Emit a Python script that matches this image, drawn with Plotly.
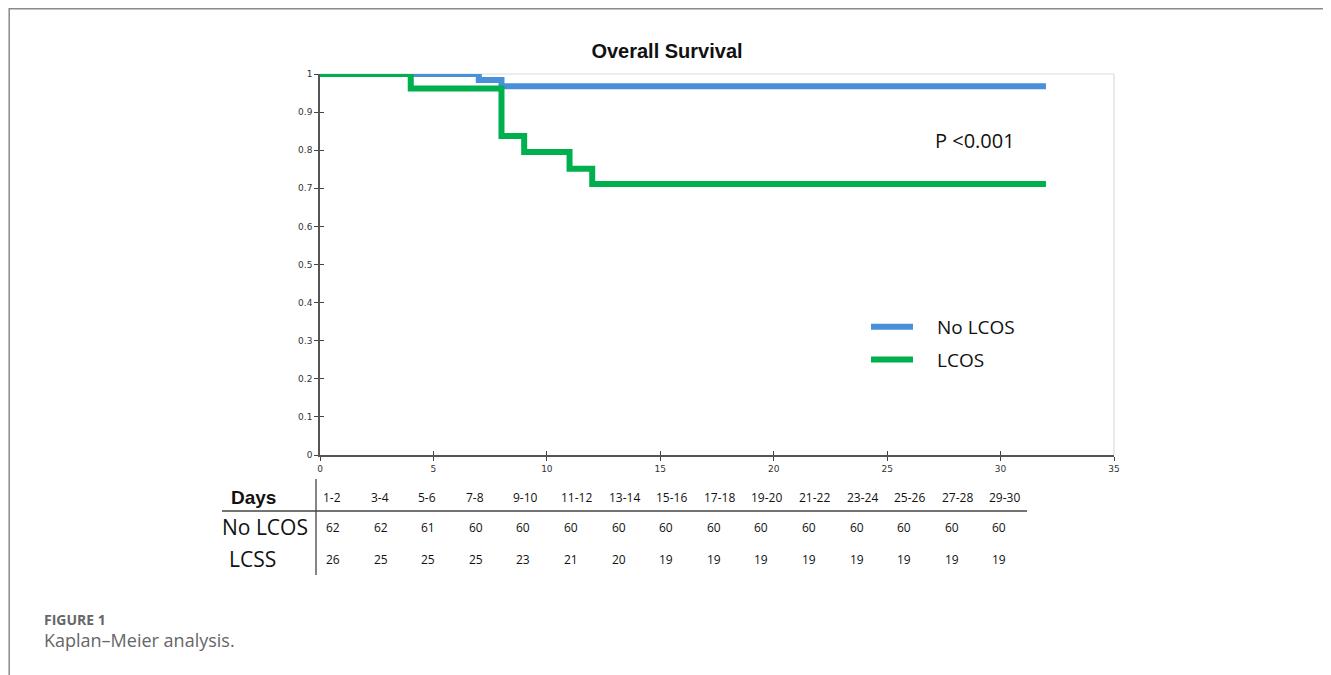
import plotly.graph_objects as go

# ---------------- data ----------------
no_lcos_time = [0, 7, 8, 32]
no_lcos_surv = [1.0, 0.984, 0.968, 0.968]
lcos_time = [0, 4, 8, 9, 11, 12, 32]
lcos_surv = [1.0, 0.962, 0.837, 0.795, 0.751, 0.711, 0.711]

day_labels = ["1-2", "3-4", "5-6", "7-8", "9-10", "11-12", "13-14", "15-16",
              "17-18", "19-20", "21-22", "23-24", "25-26", "27-28", "29-30"]
no_lcos_risk = [62, 62, 61, 60, 60, 60, 60, 60, 60, 60, 60, 60, 60, 60, 60]
lcss_risk = [26, 25, 25, 25, 23, 21, 20, 19, 19, 19, 19, 19, 19, 19, 19]

x_ticks = [0, 5, 10, 15, 20, 25, 30, 35]
y_ticks = [0, 0.1, 0.2, 0.3, 0.4, 0.5, 0.6, 0.7, 0.8, 0.9, 1]

# ---------------- layout helpers (page pixel coords) ----------------
OFF = 8                      # page body margin
W, H = 1331 - OFF, 675 - OFF
L, R, T, B = 320, 1114, 74, 455   # plot area in page pixels


def px(X):
    return (X - L) / (R - L)


def py(Y):
    return (B - Y) / (B - T)


BLUE = "#4a90d9"
GREEN = "#00b04f"
TXT = "Open Sans"
GAP = "\u2002\u2002"  # spacing between legend line and its label

fig = go.Figure()
fig.add_trace(go.Scatter(x=no_lcos_time, y=no_lcos_surv, mode="lines",
                         line=dict(color=BLUE, width=6, shape="hv"),
                         name=GAP + "No LCOS", legendgroup="a"))
fig.add_trace(go.Scatter(x=lcos_time, y=lcos_surv, mode="lines",
                         line=dict(color=GREEN, width=6, shape="hv"),
                         name=GAP + "LCOS", legendgroup="b"))

axis_common = dict(showgrid=False, zeroline=False, linecolor="#555",
                   linewidth=1.5, ticks="outside", ticklen=4, tickwidth=1.2,
                   tickcolor="#444",
                   tickfont=dict(family="DejaVu Sans", size=9, color="#333"))

fig.update_layout(
    width=W, height=H,
    margin=dict(l=L - OFF, r=W - (R - OFF), t=T - OFF, b=H - (B - OFF)),
    paper_bgcolor="white", plot_bgcolor="white",
    xaxis=dict(range=[0, 35], tickvals=x_ticks, showline=True, **axis_common),
    yaxis=dict(range=[0, 1], tickvals=y_ticks, showline=True,
               tickformat="~g", **axis_common),
    xaxis2=dict(range=[0, 35], tickvals=x_ticks, overlaying="x", anchor="y",
                side="bottom", showgrid=False, zeroline=False, showline=False,
                ticks="inside", ticklen=4, tickwidth=1.2, tickcolor="#444",
                showticklabels=False),
    yaxis2=dict(range=[0, 1], tickvals=y_ticks, overlaying="y", anchor="x",
                side="left", showgrid=False, zeroline=False, showline=False,
                ticks="inside", ticklen=4, tickwidth=1.2, tickcolor="#444",
                showticklabels=False),
    showlegend=True,
    legend=dict(x=px(866), y=py(308), xanchor="left", yanchor="top",
                bgcolor="rgba(0,0,0,0)", font=dict(family=TXT, size=19, color="#111"),
                itemwidth=42, traceorder="grouped", tracegroupgap=5),
    title=dict(text="<b>Overall Survival</b>", x=px(667), xref="paper",
               xanchor="center", y=1 - (51 - OFF) / H, yref="container",
               yanchor="middle",
               font=dict(family="Liberation Sans", size=20, color="#111")),
)

# invisible trace to activate overlay axes (ticks crossing the axis line)
fig.add_trace(go.Scatter(x=[0], y=[0], xaxis="x2", yaxis="y2", mode="markers",
                         marker=dict(opacity=0), showlegend=False, hoverinfo="skip"))

shapes = []
# light plot-frame on top and right
shapes.append(dict(type="line", xref="paper", yref="paper", x0=0, x1=1, y0=1, y1=1,
                   line=dict(color="#dcdcdc", width=1.2), layer="below"))
shapes.append(dict(type="line", xref="paper", yref="paper", x0=1, x1=1, y0=0, y1=1,
                   line=dict(color="#dcdcdc", width=1.2), layer="below"))
# page frame
shapes.append(dict(type="line", xref="paper", yref="paper", x0=px(9), x1=px(1340),
                   y0=py(8.7), y1=py(8.7), line=dict(color="#8a8a8a", width=1.5)))
shapes.append(dict(type="line", xref="paper", yref="paper", x0=px(9.2), x1=px(9.2),
                   y0=py(8), y1=py(690), line=dict(color="#8a8a8a", width=1.5)))
# table rules
shapes.append(dict(type="line", xref="paper", yref="paper", x0=px(222), x1=px(1027),
                   y0=py(511), y1=py(511), line=dict(color="#444", width=1.3)))
shapes.append(dict(type="line", xref="paper", yref="paper", x0=px(316), x1=px(316),
                   y0=py(479), y1=py(575), line=dict(color="#444", width=1.3)))
fig.update_layout(shapes=shapes)

ann = []
ann.append(dict(text="P <0.001", x=px(933), y=py(140), xref="paper", yref="paper",
                xanchor="left", yanchor="middle", showarrow=False,
                font=dict(family=TXT, size=20, color="#111")))

# number-at-risk table
row_y = [497, 527, 559]
ann.append(dict(text="<b>Days</b>", x=px(229), y=py(row_y[0]), xref="paper", yref="paper",
                xanchor="left", yanchor="middle", showarrow=False,
                font=dict(family="Liberation Sans", size=19, color="#111")))
ann.append(dict(text="No LCOS", x=px(220), y=py(row_y[1]), xref="paper", yref="paper",
                xanchor="left", yanchor="middle", showarrow=False,
                font=dict(family=TXT, size=21, color="#111")))
ann.append(dict(text="LCSS", x=px(227), y=py(row_y[2]), xref="paper", yref="paper",
                xanchor="left", yanchor="middle", showarrow=False,
                font=dict(family=TXT, size=21, color="#111")))
for i, (lab, a, b) in enumerate(zip(day_labels, no_lcos_risk, lcss_risk)):
    xl = 321 + i * 47.6
    ann.append(dict(text=lab, x=px(xl), y=py(row_y[0]), xref="paper", yref="paper",
                    xanchor="left", yanchor="middle", showarrow=False,
                    font=dict(family=TXT, size=12, color="#111")))
    for val, yy in ((a, row_y[1]), (b, row_y[2])):
        ann.append(dict(text=str(val), x=px(xl + 3), y=py(yy), xref="paper", yref="paper",
                        xanchor="left", yanchor="middle", showarrow=False,
                        font=dict(family=TXT, size=12, color="#111")))

# caption
ann.append(dict(text="<b>FIGURE 1</b>", x=px(42), y=py(619), xref="paper", yref="paper",
                xanchor="left", yanchor="middle", showarrow=False,
                font=dict(family=TXT, size=14, color="#666")))
ann.append(dict(text="Kaplan\u2013Meier analysis.", x=px(42), y=py(640), xref="paper",
                yref="paper", xanchor="left", yanchor="middle", showarrow=False,
                font=dict(family=TXT, size=18, color="#666")))
fig.update_layout(annotations=ann)

fig.write_html("out.html")
